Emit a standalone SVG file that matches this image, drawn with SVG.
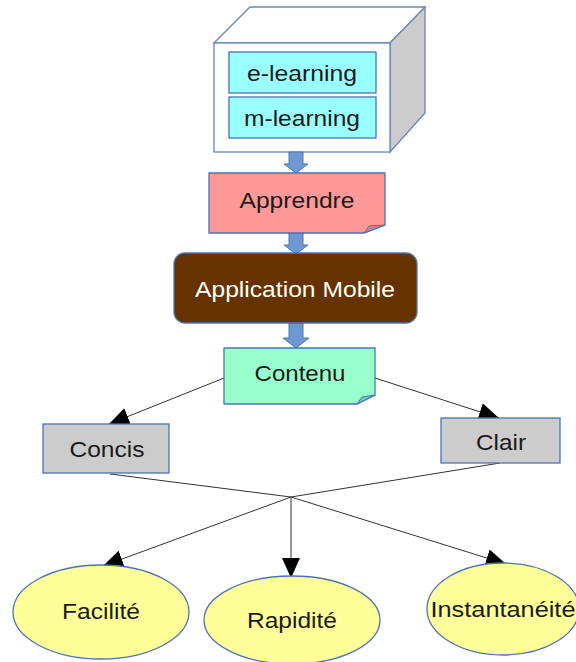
<svg xmlns="http://www.w3.org/2000/svg" width="576" height="662" viewBox="0 0 576 662">
<style>
text{font-family:"Liberation Sans",Arial,sans-serif;font-size:22.5px;fill:#1a1a1a;text-anchor:middle}
.box{stroke:#4a74b5;stroke-width:1.3}
.blk{fill:#6f98d2;stroke:#4d76b0;stroke-width:1}
.ln{stroke:#333;stroke-width:1;fill:none;marker-end:url(#ah)}
.ln2{stroke:#333;stroke-width:1;fill:none}
</style>
<defs>
<marker id="ah" markerUnits="userSpaceOnUse" markerWidth="21" markerHeight="18" refX="20" refY="9" orient="auto">
<path d="M0,0 L20,9 L0,18 Z" fill="#000"/>
</marker>
</defs>
<rect width="576" height="662" fill="#fff"/>
<g id="cube">
<polygon points="214,43 250,7 425,7 390,43" fill="#fff" stroke="#6a86b8" stroke-width="1.3"/>
<polygon points="390,43 425,7 425,113 390,152" fill="#cccccc" stroke="#6a86b8" stroke-width="1.3"/>
<rect x="214" y="43" width="176" height="109" fill="#fff" stroke="#6a86b8" stroke-width="1.3"/>
</g>
<g id="elearning">
<rect class="box" x="229" y="52" width="147" height="41" fill="#99ffff"/>
<text x="302" y="81" textLength="110" lengthAdjust="spacingAndGlyphs">e-learning</text>
</g>
<g id="mlearning">
<rect class="box" x="229" y="97" width="147" height="41" fill="#99ffff"/>
<text x="302" y="126" textLength="116" lengthAdjust="spacingAndGlyphs">m-learning</text>
</g>
<g id="connectors">
<polygon class="blk" points="289,152 303,152 303,164 308,164 296,173 284,164 289,164"/>
<polygon class="blk" points="289,233 303,233 303,245 308,245 296,254 284,245 289,245"/>
<polygon class="blk" points="289,323 303,323 303,338 309,338 296,348 283,338 289,338"/>
<line class="ln" x1="224" y1="378" x2="109" y2="424"/>
<line class="ln" x1="375" y1="378" x2="499" y2="418"/>
<line class="ln2" x1="110" y1="474" x2="291" y2="497"/>
<line class="ln2" x1="500" y1="463" x2="291" y2="497"/>
<line class="ln" x1="291" y1="497" x2="103" y2="566"/>
<line class="ln" x1="291" y1="497" x2="291" y2="578"/>
<line class="ln" x1="291" y1="497" x2="506" y2="564"/>
</g>
<g id="apprendre">
<polygon class="box" points="209,173 385,173 385,225 364,233 209,233" fill="#ff9999"/>
<polygon points="364,233 369,226 385,225" fill="#d97a86" stroke="#4a74b5" stroke-width="1"/>
<text x="297" y="208" textLength="115" lengthAdjust="spacingAndGlyphs">Apprendre</text>
</g>
<g id="appmobile">
<rect x="174" y="253" width="243" height="70" rx="11" fill="#663300" stroke="#4a74b5" stroke-width="1.3"/>
<text x="295" y="297" textLength="200" lengthAdjust="spacingAndGlyphs" style="fill:#fff">Application Mobile</text>
</g>
<g id="contenu">
<polygon class="box" points="224,348 375,348 375,395 357,404 224,404" fill="#99ffcc"/>
<polygon points="357,404 362,397 375,395" fill="#7fc8b0" stroke="#4a74b5" stroke-width="1"/>
<text x="300" y="381" textLength="91" lengthAdjust="spacingAndGlyphs">Contenu</text>
</g>
<g id="concis">
<rect class="box" x="43" y="424" width="126" height="49" fill="#cccccc"/>
<text x="107" y="457" textLength="75" lengthAdjust="spacingAndGlyphs">Concis</text>
</g>
<g id="clair">
<rect class="box" x="441" y="418" width="119" height="45" fill="#cccccc"/>
<text x="501" y="450" textLength="50" lengthAdjust="spacingAndGlyphs">Clair</text>
</g>
<g id="facilite">
<ellipse class="box" cx="101" cy="612" rx="88" ry="47" fill="#ffff99"/>
<text x="101" y="619" textLength="78" lengthAdjust="spacingAndGlyphs">Facilité</text>
</g>
<g id="rapidite">
<ellipse class="box" cx="292" cy="620" rx="88" ry="44" fill="#ffff99"/>
<text x="292" y="628" textLength="90" lengthAdjust="spacingAndGlyphs">Rapidité</text>
</g>
<g id="instantaneite">
<ellipse class="box" cx="503" cy="609" rx="76" ry="46" fill="#ffff99"/>
<text x="503" y="617" textLength="145" lengthAdjust="spacingAndGlyphs">Instantanéité</text>
</g>
</svg>
